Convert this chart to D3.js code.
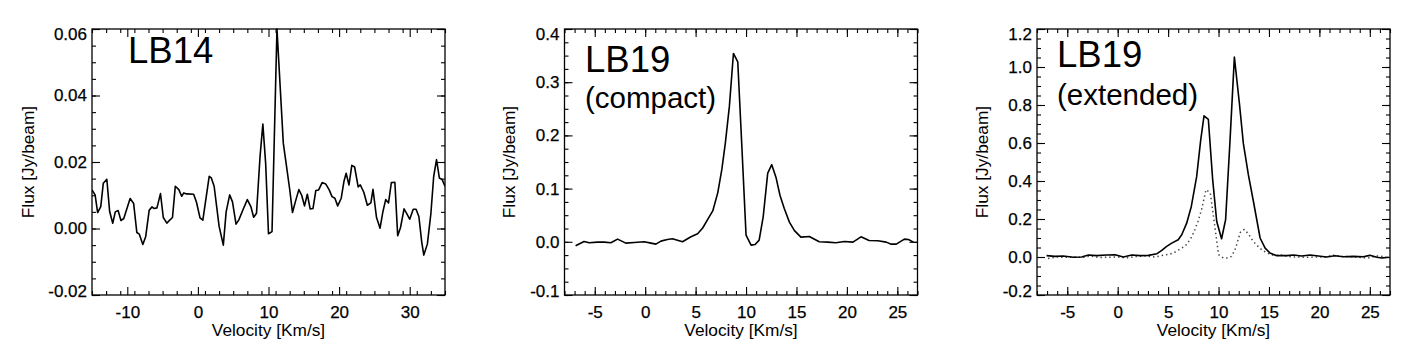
<!DOCTYPE html>
<html>
<head>
<meta charset="utf-8">
<script src="https://cdn.jsdelivr.net/npm/d3@7"></script>
<style>
  body { margin: 0; background: #fff; }
  svg { display: block; font-family: "Liberation Sans", Arial, Helvetica, sans-serif; }
</style>
</head>
<body>
<span></span>
<script>
let width = 1416;
let height = 354;

// LB14 spectrum
let lb14Velocity = [-15, -14.56, -14.2, -13.76, -13.4, -12.9, -12.5, -12.06, -11.7, -11.3, -10.9, -10.5, -9.6, -9.1, -8.65, -8.3, -7.8, -7.4, -6.9, -6.5, -6.2, -5.8, -5.3, -4.9, -4.4, -4.1, -3.6, -3.2, -2.7, -2.3, -2.0, -1.6, -0.6, -0.2, 0.3, 0.7, 1.6, 1.9, 2.3, 3.0, 3.6, 4.0, 4.5, 4.9, 5.4, 5.8, 6.4, 7.0, 7.5, 7.9, 8.3, 8.8, 9.2, 9.6, 10.0, 10.5, 11.2, 12.1, 12.5, 13.0, 13.4, 13.8, 14.3, 14.7, 15.1, 15.5, 15.9, 16.3, 16.7, 17.1, 17.6, 18.1, 18.6, 19.0, 19.4, 19.8, 20.3, 20.7, 21.0, 21.4, 21.8, 22.2, 22.7, 23.0, 23.5, 24.0, 24.5, 24.8, 25.3, 25.8, 26.2, 26.6, 27.0, 27.4, 27.9, 28.3, 28.7, 29.2, 29.6, 30.0, 30.5, 30.9, 31.3, 31.7, 32.0, 32.5, 33.0, 33.4, 33.8, 34.2, 34.6, 35];
let lb14Flux = [0.0116, 0.0101, 0.0048, 0.0066, 0.0136, 0.0148, 0.0051, 0.0016, 0.005, 0.0054, 0.0024, 0.003, 0.009, 0.0075, -0.0012, -0.0017, -0.0048, -0.0025, 0.0055, 0.0065, 0.006, 0.0062, 0.0105, 0.0033, 0.0016, 0.0023, 0.0033, 0.0127, 0.0117, 0.0097, 0.0107, 0.0104, 0.0103, 0.0079, 0.0032, 0.0025, 0.0157, 0.0152, 0.0127, 0.0007, -0.005, 0.005, 0.0101, 0.008, 0.0013, 0.0026, 0.0057, 0.0087, 0.0066, 0.0034, 0.0046, 0.0216, 0.0314, 0.0195, -0.0016, -0.0009, 0.0600, 0.0256, 0.0195, 0.0118, 0.0048, 0.008, 0.0117, 0.01, 0.0068, 0.0103, 0.0059, 0.006, 0.0114, 0.0116, 0.0138, 0.0134, 0.0116, 0.0096, 0.0091, 0.0068, 0.0091, 0.0143, 0.0166, 0.0131, 0.019, 0.0185, 0.0125, 0.0131, 0.0109, 0.007, 0.0077, 0.0118, 0.0033, 0.0001, 0.005, 0.0087, 0.0077, 0.0138, 0.0139, -0.0022, 0.0003, 0.0059, 0.0044, 0.0028, 0.0058, 0.0058, 0.0036, -0.004, -0.008, -0.0047, 0.0045, 0.0157, 0.0207, 0.0152, 0.0147, 0.0127];

// LB19 compact spectrum
let compactVelocity = [-6.9, -6.06, -5.56, -4.73, -4.07, -3.4, -2.74, -1.92, -1.09, -0.1, 0.57, 1.06, 1.56, 2.2, 2.7, 3.7, 4.54, 5.2, 5.7, 6.2, 6.7, 7.2, 7.6, 7.95, 8.35, 8.75, 9.18, 9.58, 10.0, 10.5, 10.9, 11.3, 11.7, 12.15, 12.55, 12.97, 13.37, 13.8, 14.3, 14.8, 15.44, 16.27, 17.26, 18.1, 18.9, 19.75, 20.6, 21.4, 22.2, 23.07, 23.9, 24.4, 24.9, 25.7, 26.1, 26.6];
let compactFlux = [-0.0075, 0.0006, -0.0019, -0.0006, -0.0006, -0.0019, 0.005, -0.0025, -0.0013, 0.0, -0.0025, -0.0044, 0.0013, 0.0044, 0.0056, 0.0, 0.0094, 0.015, 0.026, 0.042, 0.058, 0.0925, 0.136, 0.186, 0.255, 0.354, 0.338, 0.181, 0.0125, -0.0063, -0.005, 0.0031, 0.047, 0.129, 0.145, 0.121, 0.087, 0.062, 0.037, 0.021, 0.0087, 0.01, 0.0, -0.0006, -0.0019, 0.0006, -0.0006, 0.0094, 0.0025, 0.0019, -0.0006, -0.0044, -0.0044, 0.005, 0.0044, -0.0006];

// LB19 extended spectrum (solid); compact spectrum overplotted dotted
let extendedVelocity = [-7.05, -6.22, -5.4, -4.4, -3.57, -2.9, -2.1, -1.1, -0.27, 0.56, 1.4, 2.2, 3.04, 3.9, 4.37, 4.86, 5.36, 6.0, 6.35, 6.84, 7.3, 7.83, 8.23, 8.56, 8.99, 9.42, 9.82, 10.3, 10.7, 11.14, 11.57, 12.07, 12.46, 12.96, 13.46, 14.12, 14.62, 15.1, 15.77, 16.76, 17.42, 18.25, 19.08, 19.9, 20.7, 21.55, 22.37, 23.36, 24.35, 25.0, 25.7, 26.2, 26.86];
let extendedFlux = [0.007, 0.0035, 0.005, -0.0017, 0.0, 0.0105, 0.007, 0.0105, 0.012, 0.0, 0.0105, 0.007, 0.0087, 0.0175, 0.035, 0.056, 0.073, 0.091, 0.117, 0.178, 0.266, 0.423, 0.615, 0.743, 0.724, 0.406, 0.187, 0.096, 0.196, 0.615, 1.052, 0.808, 0.598, 0.432, 0.292, 0.1, 0.047, 0.021, 0.007, 0.007, 0.0105, 0.005, 0.0105, 0.005, 0.0, 0.007, 0.0017, 0.0035, 0.0017, 0.0087, -0.0017, -0.005, -0.0017];

// tick values and labels
let lb14XTicks = [-10, 0, 10, 20, 30];
let lb14XLabels = ["-10", "0", "10", "20", "30"];
let lb14YTicks = [-0.02, 0, 0.02, 0.04, 0.06];
let lb14YLabels = ["-0.02", "0.00", "0.02", "0.04", "0.06"];
let lb19XTicks = [-5, 0, 5, 10, 15, 20, 25];
let lb19XLabels = ["-5", "0", "5", "10", "15", "20", "25"];
let compactYTicks = [-0.1, 0, 0.1, 0.2, 0.3, 0.4];
let compactYLabels = ["-0.1", "0.0", "0.1", "0.2", "0.3", "0.4"];
let extendedYTicks = [-0.2, 0, 0.2, 0.4, 0.6, 0.8, 1.0, 1.2];
let extendedYLabels = ["-0.2", "0.0", "0.2", "0.4", "0.6", "0.8", "1.0", "1.2"];

let svg = d3.select("span")
    .append("svg")
    .attr("width", width)
    .attr("height", height);

let plotTop = 29;
let plotBottom = 295;
let plotWidth = 353;

function drawPanel(cfg) {
    let left = cfg.left;
    let right = left + plotWidth;
    let x = d3.scaleLinear().domain(cfg.xDomain).range([left, right]);
    let y = d3.scaleLinear().domain(cfg.yDomain).range([plotBottom, plotTop]);
    let g = svg.append("g");

    let xMinor = d3.range(cfg.xDomain[0], cfg.xDomain[1] + 1e-9, cfg.xMinorStep);
    let yMinor = d3.range(cfg.yDomain[0], cfg.yDomain[1] + 1e-9, cfg.yMinorStep);

    let noDomain = (sel) => sel.select(".domain").remove();

    // minor ticks, all four sides, pointing inwards
    g.append("g").attr("transform", `translate(0,${plotBottom})`)
        .call(d3.axisBottom(x).tickValues(xMinor).tickSize(-4).tickFormat(""))
        .call(noDomain);
    g.append("g").attr("transform", `translate(0,${plotTop})`)
        .call(d3.axisTop(x).tickValues(xMinor).tickSize(-4).tickFormat(""))
        .call(noDomain);
    g.append("g").attr("transform", `translate(${left},0)`)
        .call(d3.axisLeft(y).tickValues(yMinor).tickSize(-4).tickFormat(""))
        .call(noDomain);
    g.append("g").attr("transform", `translate(${right},0)`)
        .call(d3.axisRight(y).tickValues(yMinor).tickSize(-4).tickFormat(""))
        .call(noDomain);

    // major ticks with labels
    let bottomAxis = g.append("g").attr("transform", `translate(0,${plotBottom})`)
        .call(d3.axisBottom(x).tickValues(cfg.xTicks).tickSize(-8).tickPadding(11)
            .tickFormat((d, i) => cfg.xLabels[i]))
        .call(noDomain);
    g.append("g").attr("transform", `translate(0,${plotTop})`)
        .call(d3.axisTop(x).tickValues(cfg.xTicks).tickSize(-8).tickFormat(""))
        .call(noDomain);
    let leftAxis = g.append("g").attr("transform", `translate(${left},0)`)
        .call(d3.axisLeft(y).tickValues(cfg.yTicks).tickSize(-8).tickPadding(5)
            .tickFormat((d, i) => cfg.yLabels[i]))
        .call(noDomain);
    g.append("g").attr("transform", `translate(${right},0)`)
        .call(d3.axisRight(y).tickValues(cfg.yTicks).tickSize(-8).tickFormat(""))
        .call(noDomain);

    g.selectAll(".tick line").attr("stroke", "#000").attr("stroke-width", 1.1);
    bottomAxis.selectAll("text").attr("font-size", 17).attr("fill", "#000")
        .attr("stroke", "#000").attr("stroke-width", 0.25);
    leftAxis.selectAll("text").attr("font-size", 17).attr("fill", "#000")
        .attr("stroke", "#000").attr("stroke-width", 0.25)
        .attr("y", (d) => d === cfg.yDomain[1] ? 5 : (d === cfg.yDomain[0] ? -4 : 0));

    // frame
    g.append("rect")
        .attr("x", left).attr("y", plotTop)
        .attr("width", plotWidth).attr("height", plotBottom - plotTop)
        .attr("fill", "none").attr("stroke", "#000").attr("stroke-width", 1.3);

    // clip
    let clipId = "clip" + cfg.id;
    svg.append("clipPath").attr("id", clipId)
        .append("rect")
        .attr("x", left).attr("y", plotTop - 1)
        .attr("width", plotWidth).attr("height", plotBottom - plotTop + 1);

    let line = d3.line()
        .x((d) => x(d[0]))
        .y((d) => y(d[1]));

    cfg.series.forEach(function (s) {
        g.append("path")
            .datum(d3.zip(s.v, s.f))
            .attr("clip-path", `url(#${clipId})`)
            .attr("d", line)
            .attr("fill", "none")
            .attr("stroke", s.dotted ? "#444" : "#000")
            .attr("stroke-width", s.dotted ? 1.5 : 1.6)
            .attr("stroke-dasharray", s.dotted ? "1.4,3" : null)
            .attr("stroke-linejoin", "round");
    });

    // axis titles
    g.append("text")
        .attr("x", (left + right) / 2)
        .attr("y", 336)
        .attr("text-anchor", "middle")
        .attr("font-size", 17.3)
        .text("Velocity [Km/s]");
    g.append("text")
        .attr("transform", `translate(${left + cfg.yTitleOffset},${(plotTop + plotBottom) / 2}) rotate(-90)`)
        .attr("text-anchor", "middle")
        .attr("font-size", 17.3)
        .text("Flux [Jy/beam]");

    // big labels
    cfg.labels.forEach(function (l) {
        g.append("text")
            .attr("x", left + l.dx)
            .attr("y", l.y)
            .attr("font-size", l.size)
            .text(l.text);
    });
}

drawPanel({
    id: 1, left: 92, xDomain: [-15, 35], yDomain: [-0.02, 0.06],
    xTicks: lb14XTicks, xLabels: lb14XLabels, yTicks: lb14YTicks, yLabels: lb14YLabels,
    xMinorStep: 2, yMinorStep: 0.005, yTitleOffset: -58,
    series: [{ v: lb14Velocity, f: lb14Flux }],
    labels: [{ text: "LB14", dx: 36, y: 63, size: 36.5 }]
});

drawPanel({
    id: 2, left: 564.5, xDomain: [-8, 27], yDomain: [-0.1, 0.4],
    xTicks: lb19XTicks, xLabels: lb19XLabels, yTicks: compactYTicks, yLabels: compactYLabels,
    xMinorStep: 1, yMinorStep: 0.025, yTitleOffset: -50,
    series: [{ v: compactVelocity, f: compactFlux }],
    labels: [{ text: "LB19", dx: 20.5, y: 71.5, size: 36.5 }, { text: "(compact)", dx: 20.5, y: 108, size: 29.5 }]
});

drawPanel({
    id: 3, left: 1037, xDomain: [-8, 27], yDomain: [-0.2, 1.2],
    xTicks: lb19XTicks, xLabels: lb19XLabels, yTicks: extendedYTicks, yLabels: extendedYLabels,
    xMinorStep: 1, yMinorStep: 0.05, yTitleOffset: -49,
    series: [{ v: compactVelocity, f: compactFlux, dotted: true }, { v: extendedVelocity, f: extendedFlux }],
    labels: [{ text: "LB19", dx: 20, y: 66.5, size: 36.5 }, { text: "(extended)", dx: 20, y: 105, size: 29.5 }]
});
</script>
</body>
</html>
